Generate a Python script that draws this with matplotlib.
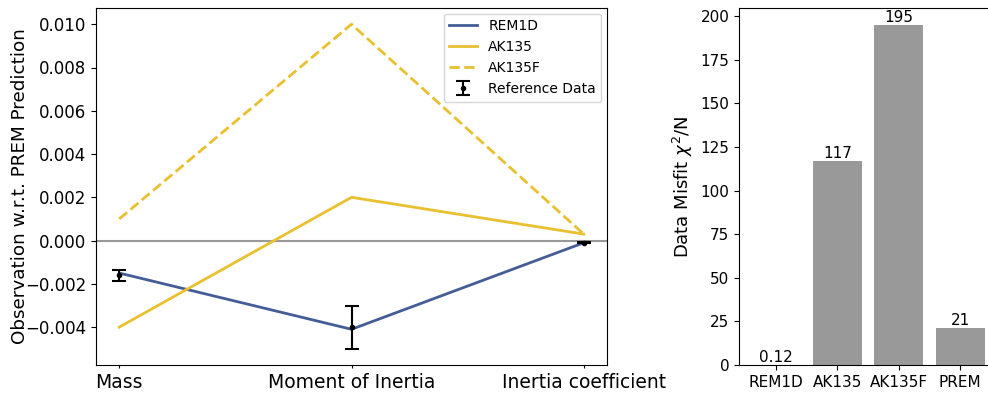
import matplotlib
matplotlib.use("Agg")
import matplotlib.pyplot as plt
import numpy as np

categories = ["Mass", "Moment of Inertia", "Inertia coefficient"]
rem1d = [-0.0015, -0.0041, -0.0001]
ak135 = [-0.0040, 0.0020, 0.0003]
ak135f = [0.0010, 0.0100, 0.0003]
ref_vals = [-0.0016, -0.0040, -0.0001]
ref_errs = [0.00025, 0.0010, 0.00003]

models = ["REM1D", "AK135", "AK135F", "PREM"]
misfit = [0.12, 117, 195, 21]
misfit_labels = ["0.12", "117", "195", "21"]

fig = plt.figure(figsize=(9.88, 3.93), dpi=100)
ax1 = fig.add_axes([96/988, 1-365/393, (607-96)/988, (365-8)/393])
ax2 = fig.add_axes([739/988, 1-365/393, (997-739)/988, (365-8)/393])

x = np.arange(len(categories))
blue = "#455d97"
gold = "#e8c030"
ax1.axhline(0, color="#999999", lw=1.5, zorder=0)
ax1.plot(x, rem1d, color=blue, lw=2, label="REM1D")
ax1.plot(x, ak135, color=gold, lw=2, label="AK135")
ax1.plot(x, ak135f, color=gold, lw=2, ls="--", label="AK135F")
ax1.errorbar(x, ref_vals, yerr=ref_errs, fmt="o", color="black", ms=3,
             capsize=5, elinewidth=1.5, capthick=1.5, label="Reference Data", zorder=5)
ax1.set_xticks(x)
ax1.set_xticklabels(categories, fontsize=13.5)
ax1.tick_params(axis="y", labelsize=12)
ax1.tick_params(axis="x", length=2)
ax1.set_ylabel("Observation w.r.t. PREM Prediction", fontsize=13.2, labelpad=-3)
ax1.legend(loc="upper right", fontsize=10, borderaxespad=0.4)

xb = np.arange(len(models))
bars = ax2.bar(xb, misfit, color="#999999", width=0.8)
for b, lab in zip(bars, misfit_labels):
    ax2.text(b.get_x() + b.get_width()/2, b.get_height(), lab,
             ha="center", va="bottom", fontsize=11)
ax2.set_xticks(xb)
ax2.set_xticklabels(models, fontsize=11)
ax2.tick_params(axis="y", labelsize=11)
ax2.set_ylim(0, 204.75)
ax2.set_xlim(-0.6, 3.6)
ax2.set_ylabel(r"Data Misfit $\chi^2$/N", fontsize=13)

fig.savefig("out.png", dpi=100)
